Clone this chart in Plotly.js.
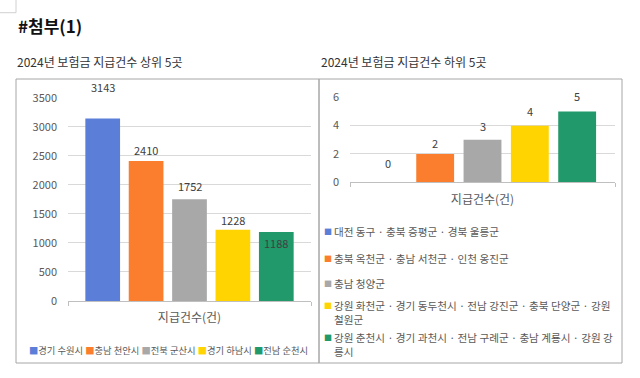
<!DOCTYPE html>
<html>
<head>
<meta charset="utf-8">
<script src="https://cdn.plot.ly/plotly-3.0.1.min.js"></script>
<style>html,body{margin:0;padding:0;background:#fff;}#chart{width:640px;height:378px;}</style>
</head>
<body>
<div id="chart"></div>
<script>
// ---- data ----
const category = '지급건수(건)';
const topNames = ['경기 수원시', '충남 천안시', '전북 군산시', '경기 하남시', '전남 순천시'];
const topValues = [3143, 2410, 1752, 1228, 1188];
const bottomNames = [
  '대전 동구 · 충북 증평군 · 경북 울릉군',
  '충북 옥천군 · 충남 서천군 · 인천 옹진군',
  '충남 청양군',
  '강원 화천군 · 경기 동두천시 · 전남 강진군 · 충북 단양군 · 강원<br>철원군',
  '강원 춘천시 · 경기 과천시 · 전남 구례군 · 충남 계룡시 · 강원 강<br>릉시'
];
const bottomValues = [0, 2, 3, 4, 5];
const leftTickVals = [0, 500, 1000, 1500, 2000, 2500, 3000, 3500];
const rightTickVals = [0, 2, 4, 6];

// ---- styles ----
const colors = ['#5B7FD8', '#FA7E2E', '#A8A8A8', '#FFD400', '#22996A'];
const W = 640, H = 378;
const px = v => v / W, py = v => 1 - v / H;
const FONT = '"Noto Sans CJK KR", "Noto Sans", sans-serif';
const leftDom = [px(68), px(311)], leftY = [py(301), py(97.7)];
const rightDom = [px(350), px(615)], rightY = [py(182.3), py(97.3)];
const bargap = 0.107, bargroupgap = 0.2;
const leftPitch = (leftDom[1] - leftDom[0]) * W * (1 - bargap) / 5;
const rightPitch = (rightDom[1] - rightDom[0]) * W * (1 - bargap) / 5;
const leftLabelShift = [31, 11, 13, 10, -11];
const rightLabelShift = [19, 11, 14, 15, 15];

const traces = [];
topValues.forEach((v, i) => traces.push({
  type: 'bar', x: [category], y: [v], name: topNames[i], xaxis: 'x', yaxis: 'y',
  marker: {color: colors[i]}, showlegend: false, hoverinfo: 'none'
}));
bottomValues.forEach((v, i) => traces.push({
  type: 'bar', x: [category], y: [v], name: bottomNames[i], xaxis: 'x2', yaxis: 'y2',
  marker: {color: colors[i]}, showlegend: false, hoverinfo: 'none'
}));

const annotations = [];
const labelFont = {family: FONT, size: 11, color: '#404040'};
topValues.forEach((v, i) => annotations.push({
  xref: 'x', yref: 'y', x: category, y: v, text: String(v), showarrow: false,
  xshift: (i - 2) * leftPitch, yshift: leftLabelShift[i], font: labelFont
}));
bottomValues.forEach((v, i) => annotations.push({
  xref: 'x2', yref: 'y2', x: category, y: v, text: String(v), showarrow: false,
  xshift: (i - 2) * rightPitch, yshift: rightLabelShift[i], font: labelFont
}));

// titles
annotations.push({xref: 'paper', yref: 'paper', x: px(16), y: py(25), xanchor: 'left', yanchor: 'middle',
  text: '<b>#첨부(1)</b>', showarrow: false, font: {family: FONT, size: 17, color: '#111'}});
annotations.push({xref: 'paper', yref: 'paper', x: px(15), y: py(61), xanchor: 'left', yanchor: 'middle',
  text: '2024년 보험금 지급건수 상위 5곳', showarrow: false, font: {family: FONT, size: 12, color: '#333'}});
annotations.push({xref: 'paper', yref: 'paper', x: px(319), y: py(62), xanchor: 'left', yanchor: 'middle',
  text: '2024년 보험금 지급건수 하위 5곳', showarrow: false, font: {family: FONT, size: 12, color: '#333'}});

// left legend (single row)
annotations.push({xref: 'paper', yref: 'paper', x: px(168), y: py(350), xanchor: 'center', yanchor: 'middle',
  showarrow: false, font: {family: FONT, size: 9.3, color: '#595959'},
  text: topNames.map((n, i) => `<span style="color:${colors[i]}">■</span>${n}`).join(' ')});

// right legend (vertical)
const rightLegendY = [231, 258, 283, 312, 344];
const rightMarkerY = [231, 258, 283, 305, 337];
bottomNames.forEach((n, i) => {
  annotations.push({xref: 'paper', yref: 'paper', x: px(328), y: py(rightMarkerY[i]), xanchor: 'center', yanchor: 'middle',
    showarrow: false, text: '■', font: {family: FONT, size: 8, color: colors[i]}});
  annotations.push({xref: 'paper', yref: 'paper', x: px(333), y: py(rightLegendY[i]), xanchor: 'left', yanchor: 'middle',
    align: 'left', showarrow: false, text: n, borderpad: 0, font: {family: FONT, size: 10.6, color: '#595959'}});
});

const axisCommonX = {
  type: 'category', showline: true, linecolor: '#bfbfbf', linewidth: 1,
  ticks: 'outside', tickson: 'boundaries', ticklen: 4, tickcolor: '#bfbfbf',
  tickfont: {family: FONT, size: 12, color: '#595959'}, ticklabelstandoff: 6,
  showgrid: false, zeroline: false, fixedrange: true
};
const axisCommonY = {
  showgrid: true, gridcolor: '#d9d9d9', zeroline: false, showline: false, ticks: '',
  tickfont: {family: FONT, size: 11, color: '#595959'}, ticklabelstandoff: 10, fixedrange: true
};

const layout = {
  width: W, height: H, margin: {l: 0, r: 0, t: 0, b: 0},
  paper_bgcolor: '#fff', plot_bgcolor: 'rgba(0,0,0,0)',
  barmode: 'group', bargap: bargap, bargroupgap: bargroupgap,
  showlegend: false,
  xaxis: Object.assign({}, axisCommonX, {domain: leftDom, anchor: 'y'}),
  yaxis: Object.assign({}, axisCommonY, {domain: leftY, anchor: 'x', range: [0, 3500], tickvals: leftTickVals}),
  xaxis2: Object.assign({}, axisCommonX, {domain: rightDom, anchor: 'y2'}),
  yaxis2: Object.assign({}, axisCommonY, {domain: rightY, anchor: 'x2', range: [0, 6], tickvals: rightTickVals}),
  annotations: annotations,
  shapes: [
    {type: 'rect', xref: 'paper', yref: 'paper', x0: px(16), x1: px(319), y0: py(363), y1: py(79), line: {color: '#a6a6a6', width: 1}},
    {type: 'rect', xref: 'paper', yref: 'paper', x0: px(319), x1: px(622), y0: py(363), y1: py(79), line: {color: '#a6a6a6', width: 1}},
    {type: 'line', xref: 'paper', yref: 'paper', x0: 0, x1: px(16), y0: py(12.7), y1: py(12.7), line: {color: '#d0d0d0', width: 1}},
    {type: 'line', xref: 'paper', yref: 'paper', x0: px(16), x1: px(16), y0: py(0), y1: py(12.7), line: {color: '#d0d0d0', width: 1}}
  ]
};

Plotly.newPlot('chart', traces, layout, {displayModeBar: false, staticPlot: true});
</script>
</body>
</html>
